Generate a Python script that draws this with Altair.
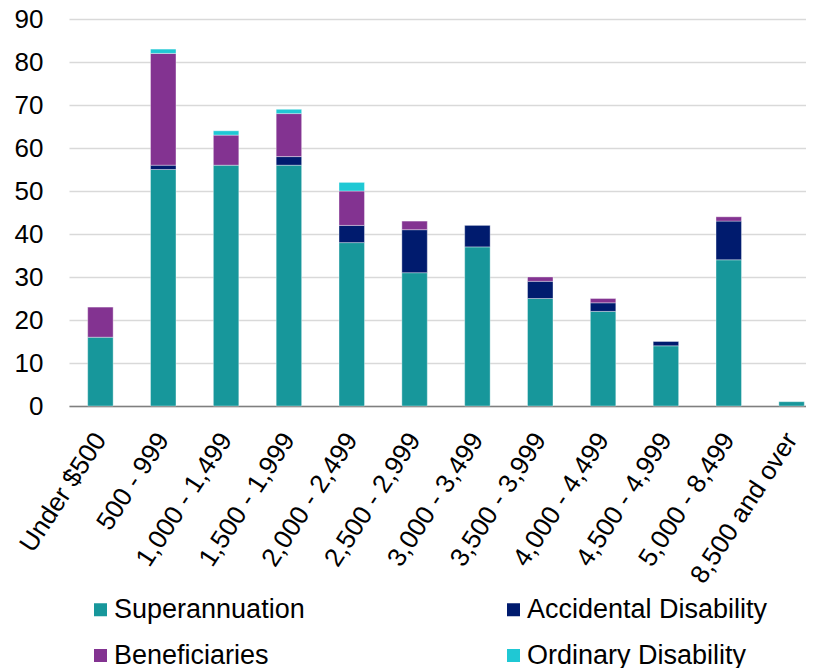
import altair as alt
import pandas as pd

categories = ["Under $500", "500 - 999", "1,000 - 1,499", "1,500 - 1,999",
              "2,000 - 2,499", "2,500 - 2,999", "3,000 - 3,499", "3,500 - 3,999",
              "4,000 - 4,499", "4,500 - 4,999", "5,000 - 8,499", "8,500 and over"]
superannuation = [16, 55, 56, 56, 38, 31, 37, 25, 22, 14, 34, 1]
accidental = [0, 1, 0, 2, 4, 10, 5, 4, 2, 1, 9, 0]
beneficiaries = [7, 26, 7, 10, 8, 2, 0, 1, 1, 0, 1, 0]
ordinary = [0, 1, 1, 1, 2, 0, 0, 0, 0, 0, 0, 0]

series_names = ["Superannuation", "Accidental Disability", "Beneficiaries", "Ordinary Disability"]
series_values = [superannuation, accidental, beneficiaries, ordinary]
series_colors = ["#17979B", "#001B6E", "#833391", "#1FC8D4"]

# legend is laid out column by column: order so rows read Super/Accidental, Benef/Ordinary
legend_order = ["Superannuation", "Beneficiaries", "Accidental Disability", "Ordinary Disability"]
legend_colors = [series_colors[series_names.index(n)] for n in legend_order]

rows = []
for si, (name, vals) in enumerate(zip(series_names, series_values)):
    for cat, v in zip(categories, vals):
        if v > 0:
            rows.append({"category": cat, "series": name, "value": v, "order": si})
df = pd.DataFrame(rows)

FONT = "Liberation Sans"

chart = alt.Chart(df).mark_bar(stroke="white", strokeWidth=0.6, strokeOpacity=0.6).encode(
    x=alt.X("category:N", sort=categories,
            scale=alt.Scale(range=[0, 754], paddingInner=0.595, paddingOuter=0.2975),
            axis=alt.Axis(title=None, labelAngle=-57, labelAlign="right", labelBaseline="middle",
                          labelPadding=29, ticks=False, labelFontSize=26, labelFont=FONT,
                          labelColor="#000000", domainColor="#7F7F7F", domainWidth=1.5,
                          labelOverlap=False, labelLimit=400)),
    y=alt.Y("value:Q", stack="zero",
            scale=alt.Scale(domain=[0, 90], nice=False),
            axis=alt.Axis(title=None, values=list(range(0, 91, 10)), ticks=False, domain=False,
                          labelFontSize=26, labelFont=FONT, labelColor="#000000",
                          labelPadding=26, gridColor="#D9D9D9", gridWidth=1.5)),
    color=alt.Color("series:N",
                    scale=alt.Scale(domain=legend_order, range=legend_colors),
                    legend=alt.Legend(title=None, orient="none", legendX=18, legendY=577,
                                      columns=2, columnPadding=195, rowPadding=18,
                                      symbolType="square", symbolSize=169, symbolStrokeWidth=0,
                                      labelFontSize=27, labelFont=FONT, labelColor="#000000",
                                      labelOffset=0, padding=0, labelLimit=400)),
    order=alt.Order("order:Q", sort="ascending"),
).properties(
    width=737, height=387,
    autosize=alt.AutoSizeParams(type="none"),
    padding={"left": 61, "top": 11, "right": 0, "bottom": 262},
).configure_view(stroke=None)

chart.save("out.html", embed_options={"renderer": "svg", "actions": False})
